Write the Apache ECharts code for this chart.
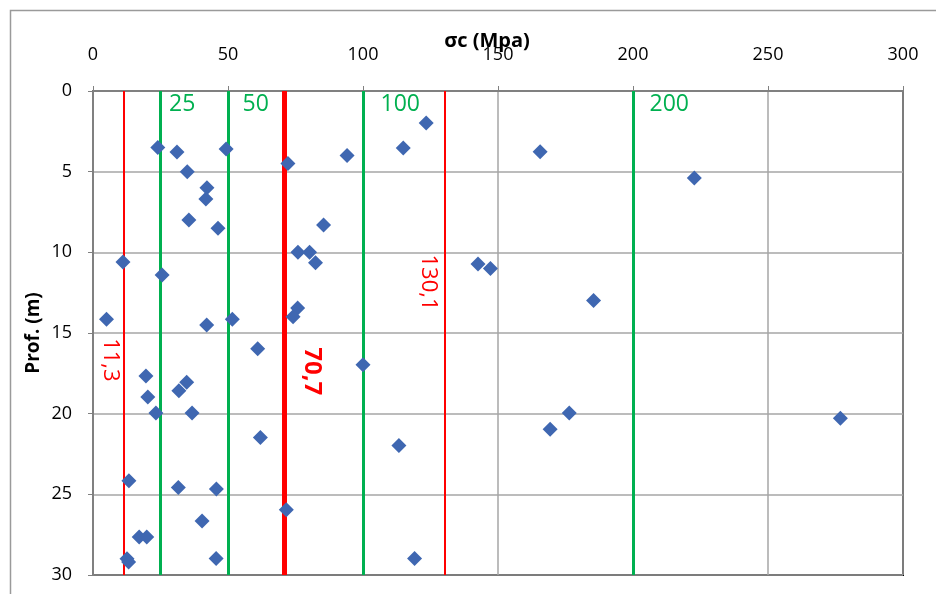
<!DOCTYPE html>
<html>
<head>
<meta charset="utf-8">
<script src="https://cdn.jsdelivr.net/npm/echarts@6/dist/echarts.min.js"></script>
<style>
html,body{margin:0;padding:0;background:#fff;}
#chart{width:936px;height:594px;}
</style>
</head>
<body>
<div id="chart"></div>
<script>
// σc (MPa) values and matching depths (m)
const sigmaValues = [24.0, 31.1, 49.3, 72.2, 94.1, 34.9, 42.2, 41.8, 35.5, 46.3, 85.4, 75.9, 80.2, 82.4, 11.1, 25.6, 75.8, 74.1, 5.0, 42.1, 51.6, 61.0, 100.0, 19.6, 34.7, 31.8, 20.3, 23.3, 36.7, 62.0, 13.3, 31.6, 45.7, 71.6, 40.4, 17.1, 19.9, 45.6, 12.6, 13.2, 123.4, 114.9, 165.6, 142.6, 147.2, 185.4, 113.3, 119.1, 176.4, 169.3, 222.7, 276.8];
const depthValues = [3.5, 3.78, 3.6, 4.5, 4.0, 5.0, 6.0, 6.7, 8.0, 8.5, 8.3, 10.0, 10.0, 10.65, 10.6, 11.4, 13.45, 14.0, 14.15, 14.5, 14.15, 15.97, 16.97, 17.67, 18.06, 18.58, 18.97, 19.96, 19.96, 21.47, 24.16, 24.57, 24.67, 25.96, 26.66, 27.65, 27.65, 28.97, 29.0, 29.2, 1.98, 3.53, 3.76, 10.72, 11.0, 12.98, 21.97, 28.97, 19.96, 20.97, 5.39, 20.29];

// reference lines
const greenLines = [25, 50, 100, 200];
const greenLabels = ['25', '50', '100', '200'];
const redLines = [11.3, 70.7, 130.1];
const redLabels = ['11,3', '70,7', '130,1'];

// axis ticks
const xTicks = [0, 50, 100, 150, 200, 250, 300];
const yTicks = [0, 5, 10, 15, 20, 25, 30];

// label styling (layout only)
const greenLabelGap = [8, 14, 17, 16];
const greenLabelDepth = 0.85;
const redLabelDepth = [16.7, 17.4, 11.9];
const redLabelShift = [-13, 28, -16];
const redLabelBold = [false, true, false];
const redLineWidth = [2, 5, 2];

const GREEN = '#00B050';
const RED = '#FF0000';
const FONT = 'Open Sans, Liberation Sans, sans-serif';

const points = sigmaValues.map((v, i) => [v, depthValues[i]]);

const markLineData = [];
greenLines.forEach(v => markLineData.push({xAxis: v, lineStyle: {color: GREEN, width: 3, type: 'solid'}}));
redLines.forEach((v, i) => markLineData.push({xAxis: v, lineStyle: {color: RED, width: redLineWidth[i], type: 'solid'}}));

const greenLabelData = greenLines.map((v, i) => ({
  value: [v, greenLabelDepth],
  label: {show: true, position: 'right', distance: greenLabelGap[i], formatter: greenLabels[i],
          color: GREEN, fontSize: 23, fontFamily: FONT}
}));
const redLabelData = redLines.map((v, i) => ({
  value: [v, redLabelDepth[i]],
  label: {show: true, position: [redLabelShift[i], 0], align: 'center', verticalAlign: 'middle', rotate: -90,
          formatter: redLabels[i], color: RED, fontSize: redLabelBold[i] ? 24 : 22,
          fontWeight: redLabelBold[i] ? 'bold' : 'normal', fontFamily: FONT}
}));

const chart = echarts.init(document.getElementById('chart'), null, {renderer: 'canvas'});
chart.setOption({
  animation: false,
  backgroundColor: '#fff',
  graphic: [{
    type: 'rect', left: 8, top: 8, silent: true,
    shape: {width: 1000, height: 1000},
    style: {fill: 'none', stroke: '#9a9a9a', lineWidth: 1.5}
  }],
  grid: {left: 93, right: 33, top: 91, bottom: 19, show: true, borderColor: '#000', borderWidth: 2, backgroundColor: 'transparent'},
  xAxis: {
    type: 'value', position: 'top', min: xTicks[0], max: xTicks[xTicks.length - 1], interval: 50,
    name: 'σc (Mpa)', nameLocation: 'middle', nameGap: 40, nameMoveOverlap: false,
    nameTextStyle: {fontSize: 20, fontWeight: 'bold', color: '#000', fontFamily: FONT, padding: [0, 22, 0, 0]},
    axisLine: {show: true, lineStyle: {color: '#808080', width: 2}},
    axisTick: {show: true, inside: false, length: 5, lineStyle: {color: '#808080', width: 1}},
    axisLabel: {fontSize: 18, color: '#000', fontFamily: FONT, margin: 27},
    splitLine: {show: true, lineStyle: {color: '#a6a6a6', width: 1.5}}
  },
  yAxis: {
    type: 'value', inverse: true, min: yTicks[0], max: yTicks[yTicks.length - 1], interval: 5,
    name: 'Prof. (m)', nameLocation: 'middle', nameGap: 50, nameRotate: 90, nameMoveOverlap: false,
    nameTextStyle: {fontSize: 19, fontWeight: 'bold', color: '#000', fontFamily: FONT},
    axisLine: {show: true, lineStyle: {color: '#808080', width: 2}},
    axisTick: {show: true, inside: false, length: 5, lineStyle: {color: '#808080', width: 1}},
    axisLabel: {fontSize: 18, color: '#000', fontFamily: FONT, margin: 21},
    splitLine: {show: true, lineStyle: {color: '#a6a6a6', width: 1.5}}
  },
  series: [
    {
      type: 'scatter', data: [], z: 2, silent: true,
      markLine: {silent: true, symbol: 'none', label: {show: false}, data: markLineData, animation: false}
    },
    {
      type: 'scatter', name: 'σc', data: points, z: 5,
      symbol: 'diamond', symbolSize: 15,
      itemStyle: {color: '#3F67B1', opacity: 1}
    },
    {
      type: 'scatter', data: greenLabelData, symbolSize: 1, z: 6, silent: true,
      itemStyle: {color: 'rgba(0,0,0,0)', opacity: 1}
    },
    {
      type: 'scatter', data: redLabelData, symbolSize: 1, z: 6, silent: true,
      itemStyle: {color: 'rgba(0,0,0,0)', opacity: 1}
    }
  ]
});
</script>
</body>
</html>
